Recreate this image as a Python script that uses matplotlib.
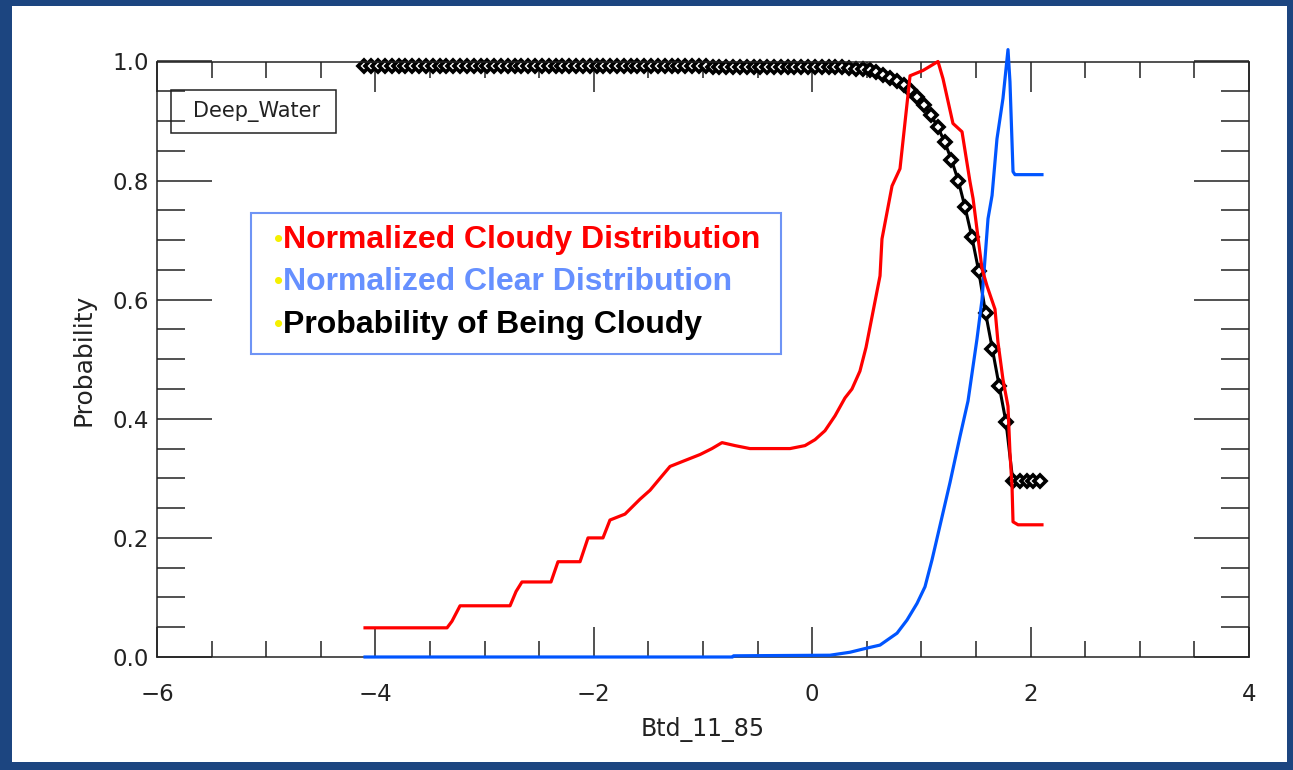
import numpy as np
import matplotlib.pyplot as plt
from matplotlib.patches import Rectangle
from matplotlib.ticker import MultipleLocator

W, H = 1293, 770

# histogram bins of Btd_11_85 (bin width 0.0625, 100 bins)
bin_start = -4.1
bin_width = 0.0625
n_bins = 100
bins = bin_start + bin_width * np.arange(n_bins)

prob_cloudy = [
    0.993, 0.993, 0.993, 0.993, 0.993, 0.993, 0.993, 0.993, 0.993, 0.993,
    0.993, 0.993, 0.993, 0.993, 0.993, 0.993, 0.993, 0.993, 0.993, 0.993,
    0.993, 0.993, 0.993, 0.993, 0.993, 0.993, 0.993, 0.993, 0.993, 0.993,
    0.993, 0.993, 0.993, 0.993, 0.993, 0.993, 0.993, 0.993, 0.993, 0.993,
    0.993, 0.993, 0.993, 0.993, 0.993, 0.993, 0.993, 0.993, 0.993, 0.993,
    0.993, 0.991, 0.991, 0.991, 0.991, 0.991, 0.991, 0.991, 0.991, 0.991,
    0.991, 0.990, 0.990, 0.990, 0.990, 0.990, 0.990, 0.990, 0.990, 0.990,
    0.990, 0.989, 0.988, 0.987, 0.985, 0.982, 0.978, 0.973, 0.967, 0.960,
    0.952, 0.941, 0.927, 0.910, 0.890, 0.865, 0.835, 0.800, 0.755, 0.705,
    0.648, 0.578, 0.517, 0.455, 0.394, 0.295, 0.295, 0.295, 0.295, 0.295,
]

cloudy_x = [-4.095, -3.344, -3.299, -3.225, -2.767, -2.712, -2.658, -2.392,
            -2.328, -2.126, -2.053, -1.916, -1.852, -1.714, -1.577, -1.485,
            -1.394, -1.302, -1.165, -1.027, -0.918, -0.826, -0.707, -0.570,
            -0.203, -0.066, 0.026, 0.117, 0.209, 0.300, 0.364, 0.437, 0.493,
            0.557, 0.621, 0.639, 0.731, 0.804, 0.896, 1.015, 1.061, 1.152,
            1.198, 1.289, 1.372, 1.445, 1.473, 1.555, 1.601, 1.674, 1.701,
            1.747, 1.793, 1.811, 1.830, 1.839, 1.885, 2.104]
cloudy_y = [0.049, 0.049, 0.060, 0.086, 0.086, 0.110, 0.126, 0.126,
            0.160, 0.160, 0.200, 0.200, 0.230, 0.240, 0.265, 0.280,
            0.300, 0.320, 0.330, 0.340, 0.350, 0.360, 0.355, 0.350,
            0.350, 0.355, 0.365, 0.380, 0.405, 0.435, 0.450, 0.480, 0.520,
            0.580, 0.640, 0.702, 0.791, 0.820, 0.976, 0.985, 0.990, 1.000,
            0.971, 0.896, 0.882, 0.798, 0.770, 0.652, 0.623, 0.584, 0.529,
            0.466, 0.421, 0.343, 0.286, 0.227, 0.222, 0.222]

clear_x = [-4.095, -0.730, -0.720, 0.163, 0.346, 0.502, 0.621, 0.777, 0.868,
           0.960, 1.033, 1.097, 1.125, 1.262, 1.353, 1.427, 1.509, 1.555,
           1.582, 1.610, 1.647, 1.692, 1.747, 1.793, 1.811, 1.839, 1.857,
           2.104]
clear_y = [0.0, 0.0, 0.002, 0.003, 0.008, 0.015, 0.020, 0.040, 0.062,
           0.090, 0.118, 0.163, 0.185, 0.293, 0.370, 0.430, 0.534, 0.600,
           0.668, 0.736, 0.775, 0.870, 0.938, 1.020, 0.966, 0.815, 0.810,
           0.810]

legend_lines = ["Normalized Cloudy Distribution",
                "Normalized Clear Distribution",
                "Probability of Being Cloudy"]
legend_colors = ["#ff0000", "#6690ff", "#000000"]


def fx(px):
    return px / W


def fy(py):
    return 1 - py / H


fig = plt.figure(figsize=(W / 100, H / 100), dpi=100, facecolor="#1c4580")
fig.add_artist(Rectangle((fx(12), fy(762)), (1287 - 12) / W, (762 - 6) / H,
                         transform=fig.transFigure, facecolor="white",
                         edgecolor="none", zorder=0))

ax = fig.add_axes([fx(157), fy(657), (1249 - 157) / W, (657 - 61.5) / H])
ax.set_facecolor("none")

ax.plot(bins, prob_cloudy, color="black", lw=2.2, marker="D", ms=6,
        mfc="white", mec="black", mew=2.6, clip_on=False, zorder=2)
ax.plot(clear_x, clear_y, color="#0055ff", lw=2.3, clip_on=False, zorder=3)
ax.plot(cloudy_x, cloudy_y, color="#ff0000", lw=2.3, clip_on=False, zorder=4)

ax.set_xlim(-6, 4)
ax.set_ylim(0, 1.0)
ax.xaxis.set_major_locator(MultipleLocator(2))
ax.xaxis.set_minor_locator(MultipleLocator(0.5))
ax.yaxis.set_major_locator(MultipleLocator(0.2))
ax.yaxis.set_minor_locator(MultipleLocator(0.05))
ax.yaxis.set_major_formatter(plt.FormatStrFormatter("%.1f"))
ax.tick_params(which="both", direction="in", top=True, right=True,
               width=1.1, color="#222222", labelcolor="#222222",
               labelsize=16.5)
ax.tick_params(axis="x", which="major", length=21.6, pad=19)
ax.tick_params(axis="x", which="minor", length=11.5)
ax.tick_params(axis="y", which="major", length=39.6, pad=6)
ax.tick_params(axis="y", which="minor", length=20)
for s in ax.spines.values():
    s.set_linewidth(1.1)
    s.set_color("#222222")

fig.text(fx(703), fy(730), "Btd_11_85", ha="center", va="center",
         fontsize=17, color="#222222")
fig.text(fx(83), fy(360), "Probability", ha="center", va="center",
         rotation=90, fontsize=18, color="#222222")

# IDL legend box
fig.add_artist(Rectangle((fx(171), fy(133)), 165 / W, 43 / H,
                         transform=fig.transFigure, facecolor="none",
                         edgecolor="#222222", lw=1.1))
fig.text(fx(193), fy(112), "Deep_Water", ha="left", va="center",
         fontsize=15, color="#222222")

# slide annotation box
fig.add_artist(Rectangle((fx(251), fy(354)), 530 / W, 141 / H,
                         transform=fig.transFigure, facecolor="white",
                         edgecolor="#6f94f5", lw=1.5, zorder=5))
for i, (txt, col) in enumerate(zip(legend_lines, legend_colors)):
    yy = fy(240 + i * 42.5)
    fig.text(fx(283), yy, "\u2022", ha="right", va="center", fontsize=19,
             color="#f5f000", family="Liberation Sans", zorder=6)
    fig.text(fx(283), yy, txt, ha="left", va="center", fontsize=23,
             color=col, family="Liberation Sans", weight="bold", zorder=6)

fig.savefig("out.png", dpi=100, facecolor=fig.get_facecolor())
